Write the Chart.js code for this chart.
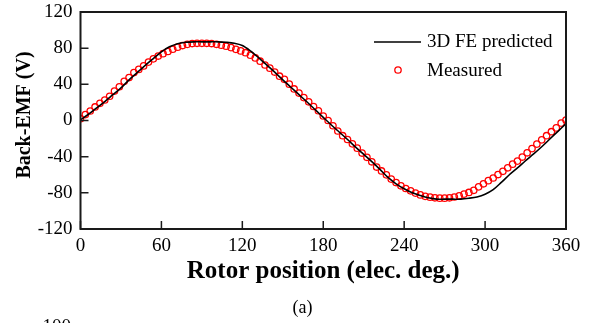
<!DOCTYPE html>
<html>
<head>
<meta charset="utf-8">
<script src="https://cdn.jsdelivr.net/npm/chart.js@4.4.1/dist/chart.umd.min.js"></script>
<style>
  html, body { margin: 0; padding: 0; background: #fff; }
</style>
</head>
<body>
<canvas id="emfChart" width="590" height="323"></canvas>
<script>
// 3D FE predicted back-EMF (elec. deg -> V)
const fePos = [
  0, 6, 12, 18, 24, 30, 36, 42, 48, 54,
  60, 66, 72, 78, 84, 90, 96, 102, 108, 114,
  120, 126, 132, 138, 144, 150, 156, 162, 168, 174,
  180, 186, 192, 198, 204, 210, 216, 222, 228, 234,
  240, 246, 252, 258, 264, 270, 276, 282, 288, 294,
  300, 306, 312, 318, 324, 330, 336, 342, 348, 354,
  360
];
const feEmf = [
  0.5, 7, 14, 21, 28.5, 36, 45, 53, 61, 68.5,
  76, 81.5, 85, 86.5, 87, 87, 87, 87, 86.5, 85.5,
  83, 77, 69.5, 61.5, 53.5, 45, 36.8, 28.6, 20.5, 12,
  3.5, -5, -13, -21, -29.5, -37.5, -45.5, -54, -63, -70,
  -75.5, -80, -83, -85.5, -87, -87, -87, -87, -86, -84.5,
  -81.5, -76.5, -68.5, -60, -52.5, -44.5, -37, -29, -20.5, -12,
  -3.5
];

// measured back-EMF
const measPos = [
  0, 3.6, 7.2, 10.8, 14.4, 18, 21.6, 25.2, 28.8, 32.4,
  36, 39.6, 43.2, 46.8, 50.4, 54, 57.6, 61.2, 64.8, 68.4,
  72, 75.6, 79.2, 82.8, 86.4, 90, 93.6, 97.2, 100.8, 104.4,
  108, 111.6, 115.2, 118.8, 122.4, 126, 129.6, 133.2, 136.8, 140.4,
  144, 147.6, 151.2, 154.8, 158.4, 162, 165.6, 169.2, 172.8, 176.4,
  180, 183.6, 187.2, 190.8, 194.4, 198, 201.6, 205.2, 208.8, 212.4,
  216, 219.6, 223.2, 226.8, 230.4, 234, 237.6, 241.2, 244.8, 248.4,
  252, 255.6, 259.2, 262.8, 266.4, 270, 273.6, 277.2, 280.8, 284.4,
  288, 291.6, 295.2, 298.8, 302.4, 306, 309.6, 313.2, 316.8, 320.4,
  324, 327.6, 331.2, 334.8, 338.4, 342, 345.6, 349.2, 352.8, 356.4,
  360
];
const measEmf = [
  2, 6.5, 10.5, 15, 19, 22.7, 26.8, 32.5, 37.3, 43.3,
  47.5, 53, 56.5, 60.4, 64.6, 68.2, 71.3, 73.9, 76.3, 78.8,
  81.1, 82.9, 84.2, 85.1, 85.4, 85.4, 85.4, 85.1, 84.3, 83.2,
  82.1, 80.6, 78.7, 77, 75, 72.2, 69.2, 65.6, 61.4, 57.9,
  53.6, 49, 45.5, 40.2, 34.9, 30.3, 25.3, 20.7, 15.5, 10.8,
  5, 0, -5.8, -11.6, -16.8, -21, -25.8, -30.6, -36, -40.7,
  -45.7, -51.5, -55.8, -60.1, -64.8, -68.6, -72.2, -75.2, -77.8, -80.3,
  -82.3, -83.9, -84.8, -85.5, -85.9, -85.9, -85.5, -84.6, -83.2, -81.4,
  -79.6, -77.2, -73.4, -70, -66.5, -63.6, -59.8, -56.2, -52.3, -48.3,
  -44.9, -40.4, -35.7, -31.1, -26.1, -21.4, -16.8, -12.4, -8.2, -2.9,
  0.5
];

const xTicks = [0, 60, 120, 180, 240, 300, 360];
const yTicks = [-120, -80, -40, 0, 40, 80, 120];
const seriesNames = ['3D FE predicted', 'Measured'];
const xTitle = 'Rotor position (elec. deg.)';
const yTitle = 'Back-EMF (V)';
const panelLabel = '(a)';
const nextPanelTick = '100';

const serif = "'Liberation Serif', 'Times New Roman', serif";
const ink = '#1a1a1a';

// frame, inward ticks, titles, legend
const decor = {
  id: 'decor',
  afterDraw(chart) {
    const { ctx, chartArea: a, scales: { x, y } } = chart;
    ctx.save();

    ctx.strokeStyle = ink;
    ctx.lineWidth = 1.5;
    ctx.beginPath();
    xTicks.forEach(v => {
      const px = x.getPixelForValue(v);
      ctx.moveTo(px, a.bottom);
      ctx.lineTo(px, a.bottom - 8);
    });
    yTicks.forEach(v => {
      const py = y.getPixelForValue(v);
      ctx.moveTo(a.left, py);
      ctx.lineTo(a.left + 8, py);
    });
    ctx.stroke();

    ctx.lineWidth = 2;
    ctx.strokeRect(a.left, a.top, a.right - a.left, a.bottom - a.top);

    // legend
    const ds = chart.data.datasets;
    const lx = a.right - 192;
    ctx.strokeStyle = ds[0].borderColor;
    ctx.lineWidth = ds[0].borderWidth;
    ctx.beginPath();
    ctx.moveTo(lx, a.top + 30);
    ctx.lineTo(lx + 47, a.top + 30);
    ctx.stroke();
    ctx.strokeStyle = ds[1].borderColor;
    ctx.lineWidth = ds[1].pointBorderWidth;
    ctx.beginPath();
    ctx.arc(lx + 24, a.top + 58, ds[1].pointRadius, 0, Math.PI * 2);
    ctx.stroke();

    ctx.fillStyle = '#000';
    ctx.font = '19px ' + serif;
    ctx.textAlign = 'left';
    ctx.textBaseline = 'alphabetic';
    ctx.fillText(seriesNames[0], lx + 53, a.top + 34.5);
    ctx.fillText(seriesNames[1], lx + 53, a.top + 64);

    // axis titles
    ctx.font = 'bold 25px ' + serif;
    ctx.textAlign = 'center';
    ctx.fillText(xTitle, (a.left + a.right) / 2, 278);

    ctx.save();
    ctx.translate(30, 115);
    ctx.rotate(-Math.PI / 2);
    ctx.font = 'bold 20px ' + serif;
    ctx.fillText(yTitle, 0, 0);
    ctx.restore();

    // panel label and the top of the next panel's tick label
    ctx.font = '18px ' + serif;
    ctx.fillText(panelLabel, 302.5, 313);
    ctx.textAlign = 'right';
    ctx.font = '19px ' + serif;
    ctx.fillText(nextPanelTick, 71, 332);

    ctx.restore();
  }
};

new Chart(document.getElementById('emfChart'), {
  type: 'scatter',
  data: {
    datasets: [
      {
        label: seriesNames[0],
        data: fePos.map((p, i) => ({ x: p, y: feEmf[i] })),
        showLine: true,
        borderColor: '#000',
        borderWidth: 1.6,
        pointRadius: 0,
        tension: 0.3,
        order: 0
      },
      {
        label: seriesNames[1],
        data: measPos.map((p, i) => ({ x: p, y: measEmf[i] })),
        showLine: false,
        pointStyle: 'circle',
        pointRadius: 3.2,
        pointBorderWidth: 1.3,
        borderColor: '#ff0000',
        backgroundColor: 'rgba(0,0,0,0)',
        pointBorderColor: '#ff0000',
        pointBackgroundColor: 'rgba(0,0,0,0)',
        order: 1
      }
    ]
  },
  options: {
    responsive: false,
    animation: false,
    layout: { padding: { top: 12, right: 24, left: 0, bottom: 0 } },
    plugins: {
      legend: { display: false },
      tooltip: { enabled: false }
    },
    scales: {
      x: {
        type: 'linear',
        min: 0,
        max: 360,
        afterBuildTicks: s => { s.ticks = xTicks.map(v => ({ value: v })); },
        afterFit: s => { s.height = 94; s.paddingLeft = 0; s.paddingRight = 0; },
        grid: { display: false, drawTicks: false },
        border: { display: false },
        ticks: {
          autoSkip: false,
          maxRotation: 0,
          padding: 6,
          color: '#000',
          font: { family: serif, size: 19 }
        }
      },
      y: {
        min: -120,
        max: 120,
        afterBuildTicks: s => { s.ticks = yTicks.map(v => ({ value: v })); },
        afterFit: s => { s.width = 80.5; s.paddingTop = 0; s.paddingBottom = 0; },
        grid: { display: false, drawTicks: false },
        border: { display: false },
        ticks: {
          padding: 8,
          color: '#000',
          font: { family: serif, size: 19 }
        }
      }
    }
  },
  plugins: [decor]
});
</script>
</body>
</html>
